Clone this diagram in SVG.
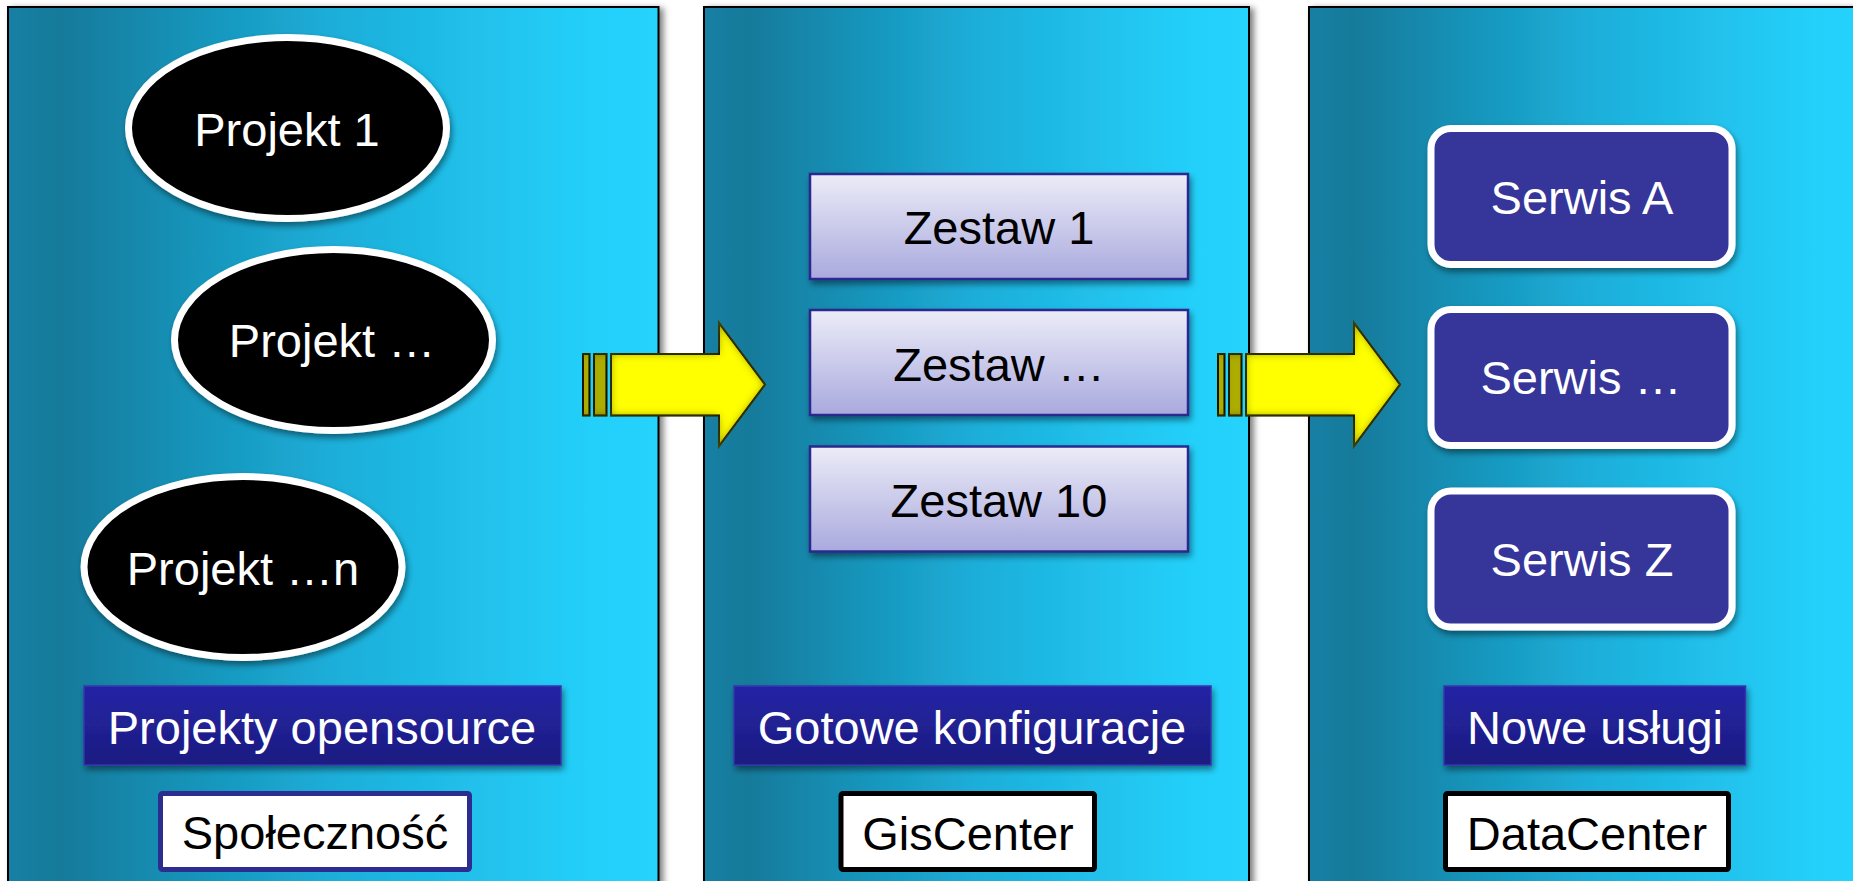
<svg xmlns="http://www.w3.org/2000/svg" width="1853" height="881" viewBox="0 0 1853 881">
<style>
text{font-family:"Liberation Sans",Arial,sans-serif;font-size:47px;text-anchor:middle}
.w{fill:#ffffff}
.k{fill:#000000}
.panel{fill:url(#panelGrad);stroke:#000;stroke-width:2;filter:url(#pshadow)}
.ell{fill:#000;stroke:#fff;stroke-width:7;filter:url(#shadow)}
.lbl{fill:url(#lblGrad);stroke:#3434b0;stroke-width:1.5;filter:url(#shadow)}
.set{fill:url(#setGrad);stroke:#2a2a8e;stroke-width:2.5;filter:url(#shadow)}
.srv{fill:#36359a;stroke:#fff;stroke-width:7;filter:url(#shadow)}
.own{fill:#fff;stroke:#000;stroke-width:5}
.ownb{fill:#fff;stroke:#2d2d90;stroke-width:5}
.arr{fill:#ffff00;stroke:#000;stroke-width:2;filter:url(#inner)}
.bar{fill:#b2b200;stroke:#000;stroke-width:2;filter:url(#inner)}
</style>
<defs>
<linearGradient id="panelGrad" x1="0" y1="0" x2="1" y2="0">
<stop offset="0" stop-color="#1680a4"/>
<stop offset="0.08" stop-color="#127a9b"/>
<stop offset="0.5" stop-color="#1caed9"/>
<stop offset="0.9" stop-color="#24d0fa"/>
<stop offset="1" stop-color="#25d3fd"/>
</linearGradient>
<linearGradient id="lblGrad" x1="0" y1="0" x2="0" y2="1">
<stop offset="0" stop-color="#2424a6"/>
<stop offset="1" stop-color="#1c1c80"/>
</linearGradient>
<linearGradient id="setGrad" x1="0" y1="0" x2="0" y2="1">
<stop offset="0" stop-color="#ececf8"/>
<stop offset="1" stop-color="#a9a9de"/>
</linearGradient>
<filter id="shadow" x="-10%" y="-10%" width="125%" height="130%">
<feDropShadow dx="2" dy="4" stdDeviation="3" flood-color="#000" flood-opacity="0.45"/>
</filter>
<filter id="pshadow" x="-5%" y="-5%" width="115%" height="115%">
<feDropShadow dx="4" dy="2" stdDeviation="3" flood-color="#000" flood-opacity="0.5"/>
</filter>
<filter id="inner" x="-20%" y="-20%" width="140%" height="140%">
<feFlood flood-color="#4a4a00" result="c"/>
<feComposite in="c" in2="SourceAlpha" operator="out" result="inv"/>
<feGaussianBlur in="inv" stdDeviation="5" result="blur"/>
<feComposite in="blur" in2="SourceAlpha" operator="in" result="sh"/>
<feMerge><feMergeNode in="SourceGraphic"/><feMergeNode in="sh"/></feMerge>
</filter>
</defs>
<rect x="0" y="0" width="1853" height="881" fill="#ffffff"/>

<g id="panel-spolecznosc">
<rect class="panel" x="8" y="7" width="650.5" height="890"/>
</g>
<g id="panel-giscenter">
<rect class="panel" x="704" y="7" width="545" height="890"/>
</g>
<g id="panel-datacenter">
<rect class="panel" x="1309" y="7" width="560" height="890"/>
</g>

<g id="projekt-1"><ellipse class="ell" cx="287.5" cy="128" rx="159" ry="90.5"/><text class="w" x="287" y="146">Projekt 1</text></g>
<g id="projekt-2"><ellipse class="ell" cx="333.5" cy="340" rx="159" ry="90.5"/><text class="w" x="332" y="357">Projekt …</text></g>
<g id="projekt-n"><ellipse class="ell" cx="243" cy="567" rx="159" ry="90.5"/><text class="w" x="243" y="585">Projekt …n</text></g>
<g id="projekty-opensource"><rect class="lbl" x="84" y="686" width="477" height="79"/><text class="w" x="322" y="744">Projekty opensource</text></g>
<g id="spolecznosc"><rect class="ownb" x="160.5" y="793.5" width="309" height="76" rx="2"/><text class="k" x="315" y="849">Społeczność</text></g>

<g id="zestaw-1"><rect class="set" x="810" y="174" width="378" height="105"/><text class="k" x="999" y="244">Zestaw 1</text></g>
<g id="zestaw-2"><rect class="set" x="810" y="310" width="378" height="105"/><text class="k" x="999" y="381">Zestaw …</text></g>
<g id="zestaw-10"><rect class="set" x="810" y="446.5" width="378" height="105"/><text class="k" x="999" y="517">Zestaw 10</text></g>
<g id="gotowe-konfiguracje"><rect class="lbl" x="734" y="686" width="477" height="79"/><text class="w" x="972" y="744">Gotowe konfiguracje</text></g>
<g id="giscenter"><rect class="own" x="841" y="793.5" width="253.5" height="76" rx="2"/><text class="k" x="968" y="850">GisCenter</text></g>

<g id="serwis-a"><rect class="srv" x="1431" y="128.5" width="301" height="136" rx="20"/><text class="w" x="1582" y="214">Serwis A</text></g>
<g id="serwis-2"><rect class="srv" x="1431" y="309.5" width="301" height="136" rx="20"/><text class="w" x="1581" y="394">Serwis …</text></g>
<g id="serwis-z"><rect class="srv" x="1431" y="491" width="301" height="136" rx="20"/><text class="w" x="1582" y="576">Serwis Z</text></g>
<g id="nowe-uslugi"><rect class="lbl" x="1444" y="686" width="301.5" height="79"/><text class="w" x="1595" y="744">Nowe usługi</text></g>
<g id="datacenter"><rect class="own" x="1445.5" y="793.5" width="283" height="76" rx="2"/><text class="k" x="1587" y="850">DataCenter</text></g>

<g id="connectors">
<g id="arrow-1">
<rect class="bar" x="583" y="354" width="6.5" height="61.5"/>
<rect class="bar" x="594" y="354" width="12.5" height="61.5"/>
<path class="arr" d="M611,354 H719 V323 L765,384.5 L719,446 V415.5 H611 Z"/>
</g>
<g id="arrow-2">
<rect class="bar" x="1218" y="354" width="6.5" height="61.5"/>
<rect class="bar" x="1229" y="354" width="12.5" height="61.5"/>
<path class="arr" d="M1246,354 H1354 V323 L1400,384.5 L1354,446 V415.5 H1246 Z"/>
</g>
</g>
</svg>
